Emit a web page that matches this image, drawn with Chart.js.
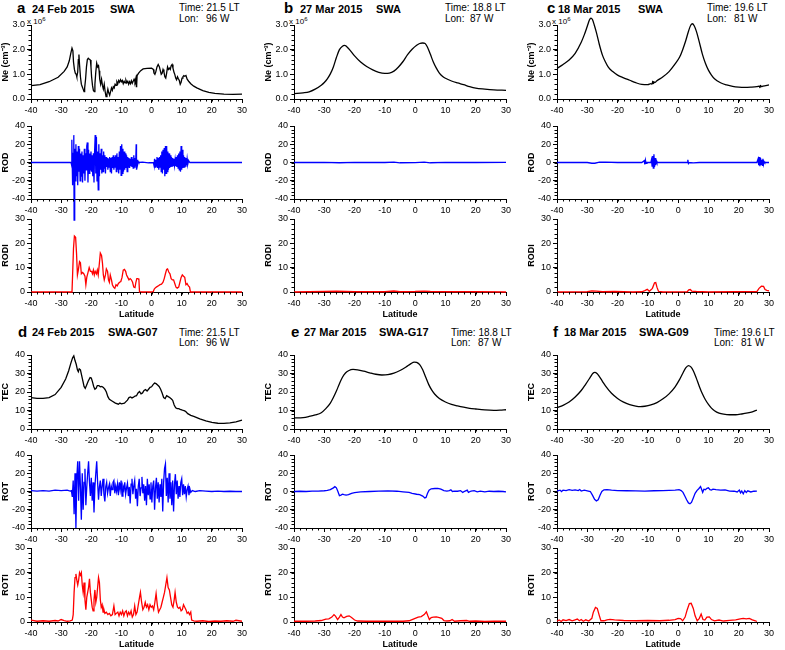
<!DOCTYPE html>
<html>
<head>
<meta charset="utf-8">
<title>SWA Ne / TEC latitude profiles</title>
<script src="https://cdn.jsdelivr.net/npm/chart.js@4.4.0/dist/chart.umd.min.js"></script>
<style>
  body { margin: 0; background: #fff; }
  #page { position: relative; width: 785px; height: 650px; overflow: hidden; background: #fff;
          font-family: 'Liberation Sans', Arial, sans-serif; color: #000; }
  #page canvas { position: absolute; }
  .lbl { position: absolute; white-space: pre; line-height: 1; }
  .let { font-weight: bold; font-size: 15px; }
  .ttl { font-weight: bold; font-size: 11px; }
  .inf { font-size: 10px; }
  .mul { font-size: 8px; }
  .mul sup { font-size: 6px; vertical-align: 3px; }
</style>
</head>
<body>
<div id="page">
  <!-- top row headers -->
  <div class="lbl let" style="left:17px;top:0px">a</div>
  <div class="lbl ttl" style="left:32px;top:4px">24 Feb 2015</div>
  <div class="lbl ttl" style="left:110px;top:4px">SWA</div>
  <div class="lbl inf" style="left:179px;top:3px">Time: 21.5 LT</div>
  <div class="lbl inf" style="left:179px;top:14px">Lon:</div>
  <div class="lbl inf" style="left:206px;top:14px">96 W</div>
  <div class="lbl mul" style="left:27px;top:16px">x 10<sup>6</sup></div>

  <div class="lbl let" style="left:284px;top:0px">b</div>
  <div class="lbl ttl" style="left:300px;top:4px">27 Mar 2015</div>
  <div class="lbl ttl" style="left:376px;top:4px">SWA</div>
  <div class="lbl inf" style="left:445px;top:3px">Time: 18.8 LT</div>
  <div class="lbl inf" style="left:445px;top:14px">Lon:</div>
  <div class="lbl inf" style="left:470px;top:14px">87 W</div>
  <div class="lbl mul" style="left:289px;top:16px">x 10<sup>6</sup></div>

  <div class="lbl let" style="left:547px;top:0px">c</div>
  <div class="lbl ttl" style="left:558px;top:4px">18 Mar 2015</div>
  <div class="lbl ttl" style="left:638px;top:4px">SWA</div>
  <div class="lbl inf" style="left:707px;top:3px">Time: 19.6 LT</div>
  <div class="lbl inf" style="left:707px;top:14px">Lon:</div>
  <div class="lbl inf" style="left:734px;top:14px">81 W</div>
  <div class="lbl mul" style="left:552px;top:16px">x 10<sup>6</sup></div>

  <!-- bottom row headers -->
  <div class="lbl let" style="left:18px;top:324px">d</div>
  <div class="lbl ttl" style="left:32px;top:327px">24 Feb 2015</div>
  <div class="lbl ttl" style="left:108px;top:327px">SWA-G07</div>
  <div class="lbl inf" style="left:179px;top:328px">Time: 21.5 LT</div>
  <div class="lbl inf" style="left:179px;top:338px">Lon:</div>
  <div class="lbl inf" style="left:206px;top:338px">96 W</div>

  <div class="lbl let" style="left:291px;top:324px">e</div>
  <div class="lbl ttl" style="left:304px;top:327px">27 Mar 2015</div>
  <div class="lbl ttl" style="left:379px;top:327px">SWA-G17</div>
  <div class="lbl inf" style="left:451px;top:328px">Time: 18.8 LT</div>
  <div class="lbl inf" style="left:451px;top:338px">Lon:</div>
  <div class="lbl inf" style="left:478px;top:338px">87 W</div>

  <div class="lbl let" style="left:553px;top:324px">f</div>
  <div class="lbl ttl" style="left:564px;top:327px">18 Mar 2015</div>
  <div class="lbl ttl" style="left:639px;top:327px">SWA-G09</div>
  <div class="lbl inf" style="left:714px;top:328px">Time: 19.6 LT</div>
  <div class="lbl inf" style="left:714px;top:338px">Lon:</div>
  <div class="lbl inf" style="left:741px;top:338px">81 W</div>
</div>
<script>
'use strict';

//**********Data ([latitude, value] pairs)*******************

// x axis ticks (latitude)
let latMin = -40;
let latMax = 30;
let latStep = 10;

// panel a : Swarm A electron density (x 10^6 cm^-3), ROD, RODI
let neA = [[-40,0.54],[-37,0.58],[-34,0.7],[-31,0.88],[-29,1.12],[-28,1.3],[-27.3,1.55],[-26.8,1.85],[-26.4,2.06],[-26.1,1.95],[-25.9,1.5],[-25.6,1.2],[-25.3,1.05],[-25.0,1.0],[-24.8,0.9],[-24.5,1.1],[-24.3,1.6],[-24.1,1.8],[-23.9,1.4],[-23.6,0.9],[-23.3,0.6],[-23.0,0.5],[-22.7,0.4],[-22.4,0.3],[-22.2,0.45],[-21.9,0.8],[-21.6,1.3],[-21.3,1.6],[-21.0,1.65],[-20.6,1.6],[-20.3,1.58],[-20.1,1.3],[-19.9,0.9],[-19.6,0.55],[-19.3,0.35],[-19.0,0.3],[-18.8,0.6],[-18.5,1.1],[-18.2,1.45],[-17.9,1.3],[-17.6,1.35],[-17.4,1.15],[-17.2,0.8],[-16.9,0.6],[-16.6,0.8],[-16.3,0.55],[-16.0,0.4],[-15.7,0.6],[-15.4,0.3],[-15.1,0.1],[-14.8,0.2],[-14.5,0.4],[-14.2,0.25],[-13.9,0.15],[-13.6,0.3],[-13.3,0.45],[-13.0,0.35],[-12.7,0.5],[-12.4,0.45],[-12.1,0.6],[-11.8,0.55],[-11.5,0.7],[-11.2,0.62],[-10.9,0.75],[-10.6,0.68],[-10.3,0.78],[-10.0,0.7],[-9.7,0.75],[-9.4,0.62],[-9.1,0.72],[-8.8,0.65],[-8.5,0.76],[-8.2,0.66],[-7.9,0.72],[-7.6,0.6],[-7.3,0.7],[-7.0,0.62],[-6.7,0.74],[-6.4,0.64],[-6.1,0.72],[-5.8,0.8],[-5.5,0.7],[-5.2,0.85],[-5.05,0.5],[-4.95,0.55],[-4.8,0.95],[-4.3,1.05],[-3.6,1.15],[-2.8,1.22],[-1.5,1.24],[0,1.25],[0.6,1.2],[0.8,1.05],[1.1,1.0],[1.4,1.1],[1.8,1.3],[2.2,1.4],[2.6,1.3],[2.9,1.15],[3.2,1.0],[3.5,1.05],[3.8,1.2],[4.1,1.1],[4.4,0.9],[4.7,0.85],[5.0,1.05],[5.3,1.3],[5.6,1.2],[5.9,1.25],[6.2,1.2],[6.5,1.35],[6.8,1.4],[7.1,1.25],[7.4,1.1],[7.7,1.0],[8.0,0.85],[8.3,0.78],[8.6,0.9],[8.9,0.82],[9.2,0.75],[9.5,0.6],[9.8,0.68],[10.1,0.85],[10.4,0.9],[10.7,0.95],[11.0,0.92],[11.4,0.95],[11.8,0.8],[12.3,0.72],[13,0.62],[14,0.52],[15,0.45],[17,0.34],[19,0.27],[21,0.23],[24,0.2],[27,0.19],[30,0.2]];

let rodA = [[-40,0],[-30,0],[-26.7,0],[-26.5,-4],[-26.4,25],[-26.2,-25],[-26.0,10],[-25.8,30],[-25.7,-63],[-25.5,15],[-25.3,-20],[-25.1,20],[-24.9,-15],[-24.7,12],[-24.5,-25],[-24.3,18],[-24.1,-10],[-23.9,15],[-23.7,-20],[-23.5,10],[-23.3,-15],[-23.1,12],[-22.9,-22],[-22.7,8],[-22.5,-12],[-22.3,15],[-22.1,-20],[-21.9,10],[-21.7,-8],[-21.5,18],[-21.3,22],[-21.1,-22],[-20.9,14],[-20.7,-12],[-20.5,10],[-20.3,-8],[-20.1,12],[-19.9,-10],[-19.7,8],[-19.5,-15],[-19.3,10],[-19.1,-22],[-18.9,12],[-18.7,30],[-18.5,-12],[-18.3,28],[-18.1,-20],[-17.9,12],[-17.7,-30],[-17.5,20],[-17.3,-15],[-17.1,10],[-16.9,-8],[-16.7,15],[-16.5,-12],[-16.3,8],[-16.1,-10],[-15.9,12],[-15.7,-6],[-15.5,8],[-15.3,-12],[-15.1,6],[-14.9,-5],[-14.7,5],[-14.5,-8],[-14.3,4],[-14.1,-5],[-13.9,6],[-13.7,-10],[-13.5,5],[-13.3,-12],[-13.1,6],[-12.9,-6],[-12.7,8],[-12.5,-8],[-12.3,6],[-12.1,-5],[-11.9,8],[-11.7,-10],[-11.5,10],[-11.3,-8],[-11.1,6],[-10.9,-12],[-10.7,12],[-10.5,-8],[-10.3,18],[-10.1,-14],[-9.9,20],[-9.7,-12],[-9.5,15],[-9.3,-10],[-9.1,12],[-8.9,-8],[-8.7,10],[-8.5,-6],[-8.3,8],[-8.1,-10],[-7.9,6],[-7.7,-5],[-7.5,5],[-7.3,-6],[-7.1,4],[-6.9,-4],[-6.7,6],[-6.5,-5],[-6.3,4],[-6.1,-6],[-5.9,8],[-5.7,-5],[-5.5,5],[-5.3,-4],[-5.1,20],[-5.0,-8],[-4.8,3],[-4.6,-2],[-4.4,1],[-4.2,0],[-3,0.3],[-1,-0.3],[0.6,0],[0.8,-3],[1.0,4],[1.2,-5],[1.4,3],[1.6,-4],[1.8,6],[2.0,-6],[2.2,5],[2.4,-8],[2.6,6],[2.8,-5],[3.0,8],[3.2,-10],[3.4,12],[3.6,-12],[3.8,14],[4.0,-8],[4.2,16],[4.4,-15],[4.6,18],[4.8,-12],[5.0,18],[5.2,-10],[5.4,12],[5.6,-8],[5.8,10],[6.0,-6],[6.2,8],[6.4,-5],[6.6,6],[6.8,-4],[7.0,5],[7.2,-3],[7.4,4],[7.6,-3],[7.8,3],[8.0,-4],[8.2,6],[8.4,-5],[8.6,8],[8.8,-6],[9.0,10],[9.2,-8],[9.4,12],[9.6,-10],[9.8,18],[10.0,-8],[10.2,14],[10.4,-6],[10.6,8],[10.8,-5],[11.0,6],[11.2,-4],[11.4,5],[11.6,-3],[11.8,4],[12.0,-2],[12.3,2],[12.7,0],[30,0]];

let rodiA = [[-40,0],[-26.4,0],[-26.2,7],[-25.9,18],[-25.6,23],[-25.2,22.5],[-24.9,16],[-24.6,7],[-24.3,9],[-23.9,12.5],[-23.6,12],[-23.3,7.5],[-22.9,8],[-22.5,7.5],[-22.1,6.5],[-21.8,3],[-21.5,6],[-21.1,8],[-20.7,10],[-20.3,8.5],[-19.9,8.5],[-19.6,7.5],[-19.3,9],[-19,7],[-18.7,8.5],[-18.3,7.5],[-18,9],[-17.7,7],[-17.3,12],[-17,16],[-16.6,15],[-16.3,12],[-16,7],[-15.7,5],[-15.3,7],[-15,9.5],[-14.6,8.5],[-14.3,5],[-14,4],[-13.7,7],[-13.3,5],[-13,3],[-12.6,2],[-12.2,1.5],[-11.8,3],[-11.4,2.5],[-11,3.5],[-10.6,4],[-10.2,4.3],[-9.8,6],[-9.4,9],[-9,9.3],[-8.6,8.5],[-8.3,7],[-7.9,6],[-7.5,5],[-7.1,5.5],[-6.7,5],[-6.3,4],[-5.9,2],[-5.5,1.8],[-5.2,4],[-4.9,5.5],[-4.5,5.5],[-4.2,5],[-4.0,0],[0.5,0],[0.9,1.2],[1.3,1.8],[1.8,2.2],[2.3,2.6],[2.8,3],[3.3,3.2],[3.8,4],[4.2,5.5],[4.6,7.5],[5.0,9.3],[5.3,9.5],[5.7,8.2],[6.1,7.5],[6.5,5.5],[6.9,5],[7.3,5],[7.7,3.5],[8.1,2],[8.5,1.6],[9,2],[9.4,4],[9.8,6],[10.2,7],[10.6,6.5],[11,6],[11.4,3],[11.8,3.5],[12.2,2.5],[12.6,2],[12.9,0],[30,0]];

// panel b
let neB = [[-40,0.22],[-37,0.25],[-35,0.29],[-33,0.4],[-31,0.56],[-30,0.67],[-29,0.82],[-28,1.02],[-27,1.3],[-26,1.68],[-25,2.0],[-24,2.14],[-23.3,2.17],[-22,2.05],[-20,1.75],[-18,1.5],[-16,1.32],[-14,1.18],[-12,1.08],[-10,1.04],[-8.5,1.05],[-7,1.13],[-5.5,1.3],[-4,1.52],[-2.5,1.8],[-1,2.02],[0.5,2.18],[1.5,2.25],[2.5,2.27],[3.3,2.25],[4,2.12],[5,1.82],[6,1.5],[7,1.25],[8,1.05],[9,0.92],[10,0.84],[12,0.73],[14,0.65],[16,0.58],[18,0.5],[20,0.44],[23,0.4],[26,0.37],[30,0.35]];
let rodB = [[-40,0],[-30,0.2],[-25,-0.3],[-20,0.2],[-10,0],[-7,0.4],[-5,-0.3],[0,-0.2],[3,0.5],[5,-0.3],[10,0.2],[20,0],[30,0.1]];
let rodiB = [[-40,0],[-30,0.2],[-26,0.3],[-20,0.1],[-10,0.1],[-7,0.4],[-5,0.1],[0,0.2],[3,0.4],[5,0.2],[10,0.1],[20,0.1],[30,0]];

// panel c
let neC = [[-40,1.24],[-38,1.4],[-36,1.58],[-34,1.85],[-32,2.3],[-31,2.6],[-30,2.95],[-29.3,3.2],[-28.8,3.28],[-28.3,3.22],[-27.7,3.0],[-27,2.7],[-26,2.2],[-25,1.78],[-24,1.5],[-23,1.28],[-21.5,1.1],[-20,0.97],[-18,0.86],[-16,0.76],[-14,0.66],[-12,0.59],[-10,0.58],[-9,0.62],[-8.6,0.6],[-8.4,0.72],[-8.2,0.62],[-8,0.7],[-7.8,0.66],[-7,0.74],[-5,0.9],[-3,1.11],[-1,1.42],[0.5,1.7],[1.5,2.0],[2.5,2.36],[3.5,2.78],[4.2,3.0],[4.7,3.05],[5.3,2.97],[6,2.75],[6.8,2.4],[8,1.82],[9,1.45],[10,1.17],[11,0.97],[12,0.82],[14,0.66],[16,0.57],[18,0.51],[20,0.48],[22,0.47],[24,0.48],[26,0.5],[26.8,0.52],[27,0.46],[27.2,0.55],[27.5,0.5],[28,0.52],[30,0.57]];
let rodC = [[-40,0],[-30,0],[-28.5,-0.8],[-27.5,-0.8],[-26,0.3],[-24,0.4],[-20,0],[-12,0],[-11.2,2],[-11,-2],[-10.8,2.5],[-10.6,-1],[-10.3,0],[-9,0],[-8.8,3],[-8.6,-4],[-8.4,7],[-8.2,-6],[-8.0,9],[-7.8,-5],[-7.6,5],[-7.4,-3],[-7.2,2],[-7,0],[3,0],[3.2,3],[3.4,-1],[3.6,0],[5,-0.5],[7,0],[26,0],[26.4,4],[26.6,-3],[26.8,6],[27.0,-4],[27.2,5],[27.4,-2],[27.6,3],[27.8,-3],[28.0,4],[28.2,-2],[28.4,1],[28.6,0],[30,0]];
let rodiC = [[-40,0],[-30,0.1],[-28.5,0.5],[-27,0.4],[-25,0.1],[-21,0.2],[-15,0],[-12,0.1],[-11,0.6],[-10.2,1.1],[-9.5,0.3],[-8.5,1.5],[-7.8,3.8],[-7.4,3.9],[-7,2],[-6.5,0.3],[-5,0],[3,0.1],[3.5,0.9],[4,1],[4.5,0.4],[6,0.2],[10,0],[26,0.2],[26.7,1.5],[27.5,2.4],[28.2,2.3],[28.7,1],[29.3,0.7],[30,0.5]];

// panel d : GPS TEC (TECU), ROT, ROTI
let tecD = [[-40,17],[-38,16.6],[-36,16.6],[-34,17],[-32,18.6],[-30,22.5],[-28.5,27],[-27.5,31.5],[-26.8,35.5],[-26.2,38.5],[-25.8,39.5],[-25.4,37],[-25,35],[-24.6,32],[-24.3,31],[-24,32.5],[-23.6,32],[-23.2,29],[-22.8,26],[-22.4,23],[-22,22],[-21.6,23.5],[-21,26],[-20.4,27.8],[-20,27.6],[-19.6,25.5],[-19.2,23],[-18.8,21.5],[-18.4,22],[-18,23.5],[-17.5,23.5],[-17,22.8],[-16.5,23],[-16,22.5],[-15.5,21.5],[-15,20],[-14.5,17.5],[-14,16],[-13,15],[-12,14],[-11,13.4],[-10.5,14],[-10,13.6],[-9,14],[-8.5,14.8],[-8,15.6],[-7.5,17],[-7,17.3],[-6.5,16.8],[-6,17.2],[-5.5,17.8],[-5,18],[-4.5,19.5],[-4,20.3],[-3.5,19],[-3,19.5],[-2.5,20.8],[-2,21.3],[-1.5,20.5],[-1,21.5],[-0.5,22.5],[0,22.8],[0.5,24],[1,24.8],[1.5,24.5],[2,23.8],[2.5,23],[3,21.5],[3.5,19.5],[4,17],[4.5,16.5],[5,18],[5.5,17.5],[6,17],[6.5,16.3],[7,15.5],[7.5,13],[8,11.5],[8.5,11],[9,11],[9.5,10.6],[10,10.3],[10.5,10],[11,9.8],[11.5,9.2],[12,8.3],[13,7.4],[14,6.8],[15,6.2],[16,5.5],[18,4.4],[20,3.6],[22,3.1],[24,3],[26,3.3],[28,3.9],[30,4.8]];

let rotD = [[-40,1],[-38,0.5],[-36,1],[-34,0.5],[-32,1.5],[-30,1],[-28,1.5],[-27,0.5],[-26.6,1],[-26.3,-6],[-26.0,12],[-25.7,-25],[-25.4,20],[-25.1,-40],[-24.8,15],[-24.5,33],[-24.2,-10],[-23.9,33],[-23.6,5],[-23.3,-31],[-23.0,20],[-22.7,-20],[-22.4,10],[-22.1,25],[-21.8,-15],[-21.5,5],[-21.2,20],[-20.9,33],[-20.6,10],[-20.3,-5],[-20.0,15],[-19.7,-10],[-19.4,10],[-19.1,-23],[-18.8,5],[-18.5,20],[-18.2,33],[-17.9,10],[-17.6,-9],[-17.3,5],[-17.0,12],[-16.7,-5],[-16.4,6],[-16.1,14],[-15.8,-3],[-15.5,-11],[-15.2,5],[-14.9,10],[-14.6,-2],[-14.3,4],[-14.0,8],[-13.7,-5],[-13.4,6],[-13.1,2],[-12.8,10],[-12.5,12],[-12.2,-2],[-11.9,6],[-11.6,0],[-11.3,8],[-11.0,-4],[-10.7,10],[-10.4,2],[-10.1,12],[-9.8,-5],[-9.5,6],[-9.2,2],[-8.9,10],[-8.6,-3],[-8.3,4],[-8.0,9],[-7.7,-5],[-7.4,5],[-7.1,-13],[-6.8,8],[-6.5,14],[-6.2,-3],[-5.9,6],[-5.6,12],[-5.3,-8],[-5.0,3],[-4.7,-16],[-4.4,6],[-4.1,14],[-3.8,-5],[-3.5,4],[-3.2,16],[-2.9,-2],[-2.6,8],[-2.3,-10],[-2.0,6],[-1.7,-15],[-1.4,14],[-1.1,-4],[-0.8,8],[-0.5,-8],[-0.2,10],[0.1,-12],[0.4,6],[0.7,12],[1.0,-20],[1.3,4],[1.6,15],[1.9,-8],[2.2,10],[2.5,-12],[2.8,8],[3.1,-6],[3.4,14],[3.7,-22],[4.0,10],[4.3,25],[4.6,30],[4.9,-5],[5.2,15],[5.5,-12],[5.8,20],[6.1,-8],[6.4,10],[6.7,-15],[7.0,12],[7.3,-22],[7.6,8],[7.9,19],[8.2,-3],[8.5,12],[8.8,-8],[9.1,6],[9.4,-6],[9.7,10],[10.0,14],[10.3,-4],[10.6,8],[10.9,-3],[11.2,6],[11.5,-6],[11.8,2],[12.1,6],[12.4,-4],[12.7,3],[13.0,-1],[13.5,1],[14.5,0],[16,1],[18,0.5],[20,0],[22,0.5],[24,0],[26,0.3],[28,0],[30,0]];

let rotiD = [[-40,0.8],[-38,0.3],[-36,0.5],[-34,0.3],[-32,0.6],[-31,0.4],[-30,1.0],[-29,0.6],[-28,0.3],[-27,0.5],[-26.3,0.8],[-26,3],[-25.7,12],[-25.4,18],[-25.1,19.5],[-24.8,17],[-24.5,15],[-24.2,17],[-23.9,20],[-23.6,19],[-23.3,20],[-23,15],[-22.7,12],[-22.4,16],[-22.1,9],[-21.8,5],[-21.5,10],[-21.2,12],[-20.9,14],[-20.6,17.5],[-20.3,12],[-20,9],[-19.7,6],[-19.4,4.5],[-19.1,9],[-18.8,13],[-18.5,8],[-18.2,10],[-17.9,14],[-17.6,18],[-17.3,16],[-17,9],[-16.7,6],[-16.4,7],[-16.1,4],[-15.8,5],[-15.5,3.5],[-15,4],[-14.5,3],[-14,3.5],[-13.5,2.5],[-13,3],[-12.5,6.5],[-12.1,3],[-11.7,3.5],[-11.2,4],[-10.8,2.5],[-10.4,4],[-10,3],[-9.6,4.5],[-9.2,2.5],[-8.8,4],[-8.4,4.5],[-8,2.5],[-7.6,4],[-7.2,3],[-6.8,4.5],[-6.4,2],[-6,3],[-5.6,6.5],[-5.2,3],[-4.8,4],[-4.4,7],[-4,10],[-3.7,12],[-3.3,8],[-2.9,5],[-2.5,6],[-2.1,8],[-1.7,6],[-1.3,7],[-0.9,5],[-0.5,7],[-0.1,6],[0.3,6.5],[0.7,5],[1.1,8],[1.5,11.5],[1.9,7],[2.3,4],[2.7,5],[3.1,6],[3.5,8],[3.9,10],[4.3,12],[4.7,15],[5.1,18],[5.5,14],[5.9,13],[6.3,10],[6.7,7],[7.1,6],[7.5,9],[7.8,12],[8.2,8],[8.6,6],[9,5.5],[9.4,6],[9.8,4.5],[10.2,5],[10.6,7],[11,6],[11.4,5],[11.8,3.5],[12.2,4],[12.6,3],[13,4],[13.3,0.8],[14,0.5],[15,0.3],[17,0.5],[19,0.2],[21,0.4],[23,0.3],[25,0.5],[27,0.3],[28,0.7],[30,0.3]];

// panel e
let tecE = [[-40,6],[-37,6.2],[-35,6.8],[-33,7.6],[-31,8.8],[-29.5,11],[-28,14],[-27,17],[-26,20.5],[-25,24.5],[-24,28],[-23,30.3],[-22,31.5],[-20.5,32.2],[-19,32],[-17,31.3],[-15,30.4],[-13,29.6],[-11,29.2],[-9,29.4],[-7,30.2],[-5,31.6],[-3,33.5],[-1.5,35.2],[-0.3,36.2],[0.5,36],[1.5,34.8],[2.5,32],[3.5,28],[4.5,24],[5.5,21],[6.5,18.8],[8,16.5],[10,14.6],[12,13.3],[14,12.5],[16,11.8],[18,11.2],[20,10.8],[23,10.3],[26,10.1],[28,10.2],[30,10.4]];
let rotE = [[-40,0],[-38,0.3],[-36,0],[-34,0.4],[-32,0.5],[-30,0.8],[-29,1.2],[-28,2],[-27,4],[-26.5,5.3],[-26,4],[-25.5,0],[-25,-4.5],[-24.5,-4],[-24,-3],[-23.5,-3.5],[-22.8,-4],[-22,-3.5],[-21,-2],[-20,-1.2],[-18,-0.5],[-15,0],[-12,0.5],[-9,0.6],[-6,0.3],[-4,-0.3],[-2,-1],[-1,-2],[0.5,-3],[1.5,-3.5],[2.5,-5],[3.2,-7],[3.6,-6.5],[4.1,-2],[4.6,1.5],[5.3,3],[6.5,3.3],[7.5,3.5],[8.5,2.5],[9.5,1],[10.5,0.5],[11.3,1],[11.8,1.8],[12.3,0],[13,0.5],[14,0.3],[15,1],[15.7,-1],[16.5,0.5],[17.2,1.5],[17.6,-1],[18.5,0.5],[19.5,1],[20.5,-0.3],[21.5,0.5],[23,-0.5],[24.5,0.3],[26,0],[27.5,0.3],[29,0],[30,-0.5]];
let rotiE = [[-40,0.3],[-36,0.3],[-33,0.4],[-31,0.6],[-29.5,1.2],[-28.5,1.3],[-27.5,2],[-26.8,3],[-26.3,2.4],[-25.6,1],[-25,2],[-24.5,3],[-24,2],[-23.5,1.7],[-22.6,2.3],[-21.8,2.5],[-21,1.8],[-20,0.8],[-19,0.4],[-16,0.3],[-12,0.3],[-8,0.3],[-4,0.3],[-2,0.5],[-1,1],[0,1.5],[1,2],[2,2.2],[3,3],[3.7,4.1],[4.2,2.5],[4.7,1],[5.3,1.8],[6,2],[7,2.1],[8,1.8],[8.8,1.5],[9.5,0.6],[10.5,0.4],[11.5,0.5],[12.2,1],[13,0.3],[15,0.5],[17,0.6],[18,0.3],[20,0.4],[23,0.2],[26,0.3],[30,0.3]];

// panel f
let tecF = [[-40,11.5],[-38,12.8],[-36,14.6],[-34,17.3],[-32,20.8],[-30.5,24.3],[-29,28],[-28.2,30],[-27.5,30.6],[-26.8,30],[-26,28.3],[-25,25.8],[-24,23.3],[-22,19.3],[-20,16.5],[-18,14.5],[-16,13.2],[-14,12.4],[-12.5,12.1],[-11,12.3],[-9,13],[-7,14.3],[-5,16.3],[-3,19],[-1,22.8],[0.5,26.8],[1.5,30],[2.5,33],[3.4,34.3],[4.2,33.6],[5,31.5],[6,27.5],[7,23],[8,19],[9,15.8],[10,13.3],[11,11.3],[12,9.9],[13.5,8.6],[15,8],[17,7.7],[19,7.7],[21,8.1],[23,8.7],[24.5,9.3],[26,10.2]];
let rotF = [[-40,0.5],[-39,1.5],[-38.5,0],[-38,1.5],[-37,1],[-36,2],[-35,1.2],[-34,1.8],[-33,1],[-32.5,2.2],[-32,0.5],[-31,1.5],[-30,0.8],[-29,0],[-28.3,-4],[-27.6,-8.5],[-27,-10.3],[-26.4,-9],[-25.8,-4],[-25.2,0],[-24.5,1.8],[-23.5,2],[-22,1.5],[-20,1],[-17,0.8],[-14,0.6],[-11,0.5],[-8,0.8],[-5,1],[-3,1.2],[-1,1.5],[0.3,2],[1,1],[1.6,-1],[2.2,-5],[2.8,-9],[3.4,-12.5],[3.9,-13.5],[4.4,-12],[5,-7],[5.6,-2],[6.2,1],[6.8,3],[7.4,5.5],[7.8,2],[8.1,-1],[8.5,2.5],[9,2],[9.5,3.5],[10,4],[10.5,2],[11,1.5],[11.5,2.5],[12.5,2],[14,1.5],[15.5,1.8],[17,0.5],[18.5,0.3],[19.5,-0.5],[20.2,1.5],[20.6,-1.5],[21,0.5],[21.5,-2.5],[22,1],[22.5,-1],[23,0.8],[24,-0.5],[25,0.3],[26,0.5]];
let rotiF = [[-40,0.3],[-39.3,0.8],[-38.6,0.2],[-38,0.9],[-37,0.6],[-36,1],[-35,0.5],[-34,0.9],[-33.3,1.2],[-32.6,0.5],[-32,1],[-31.3,0.3],[-30.5,0.9],[-29.5,0.4],[-28.5,1.5],[-28,4],[-27.3,5.9],[-26.7,5.5],[-26,2.5],[-25.5,0.5],[-24.5,0.5],[-23.5,0.9],[-22.5,1.1],[-21,0.9],[-18,0.6],[-14,0.5],[-10,0.6],[-6,0.5],[-3,0.7],[-1,1],[0,1.5],[0.8,1.4],[1.5,0.5],[2.3,2],[3,5],[3.7,7.5],[4.3,7.6],[5,5.5],[5.6,2.5],[6.3,0.5],[7,1.5],[7.6,3.2],[8.2,1],[8.8,0.8],[9.5,2],[10.3,2.1],[11,1],[12,0.5],[13.5,0.8],[15,0.4],[17,0.7],[19,0.9],[20.5,1.3],[21.5,1.5],[22.5,1.3],[23.5,1.5],[24.5,0.9],[25.5,0.5],[26,0.2]];

// ************ Layout *******************

let page = document.getElementById('page');

let colLeft = [31, 294, 557];
let colRight = [242, 506, 769];

// y axis settings for each kind of subplot
let rows = {
  ne:   { top: 25,  bottom: 99,  min: 0,   max: 3,  step: 1,  minor: 0.2, title: 'Ne (cm\u207B\u00B3)', fixed: true },
  rod:  { top: 126, bottom: 199, min: -40, max: 40, step: 20, minor: 4,   title: 'ROD' },
  rodi: { top: 219, bottom: 292, min: 0,   max: 30, step: 10, minor: 2,   title: 'RODI', xTitle: true },
  tec:  { top: 355, bottom: 429, min: 0,   max: 40, step: 10, minor: 2,   title: 'TEC' },
  rot:  { top: 455, bottom: 528, min: -40, max: 40, step: 20, minor: 4,   title: 'ROT' },
  roti: { top: 548, bottom: 622, min: 0,   max: 30, step: 10, minor: 2,   title: 'ROTI', xTitle: true }
};

let BLACK = '#000000';
let BLUE = '#0000ff';
let RED = '#ff0000';

let panels = [
  { col: 0, row: 'ne',   data: neA,   color: BLACK },
  { col: 0, row: 'rod',  data: rodA,  color: BLUE, below: 24 },
  { col: 0, row: 'rodi', data: rodiA, color: RED },
  { col: 1, row: 'ne',   data: neB,   color: BLACK, smooth: true },
  { col: 1, row: 'rod',  data: rodB,  color: BLUE },
  { col: 1, row: 'rodi', data: rodiB, color: RED },
  { col: 2, row: 'ne',   data: neC,   color: BLACK, smooth: true },
  { col: 2, row: 'rod',  data: rodC,  color: BLUE },
  { col: 2, row: 'rodi', data: rodiC, color: RED },
  { col: 0, row: 'tec',  data: tecD,  color: BLACK },
  { col: 0, row: 'rot',  data: rotD,  color: BLUE },
  { col: 0, row: 'roti', data: rotiD, color: RED },
  { col: 1, row: 'tec',  data: tecE,  color: BLACK, smooth: true },
  { col: 1, row: 'rot',  data: rotE,  color: BLUE },
  { col: 1, row: 'roti', data: rotiE, color: RED },
  { col: 2, row: 'tec',  data: tecF,  color: BLACK, smooth: true },
  { col: 2, row: 'rot',  data: rotF,  color: BLUE },
  { col: 2, row: 'roti', data: rotiF, color: RED }
];

// ************* Helpers ***************

Chart.defaults.font.family = "'Liberation Sans', Arial, sans-serif";
Chart.defaults.color = BLACK;

// small ticks between the labelled ones
let minorTicks = {
  id: 'minorTicks',
  afterDraw(chart, args, opts) {
    let ctx = chart.ctx;
    let area = chart.chartArea;
    let xs = chart.scales.x;
    let ys = chart.scales.y;
    ctx.save();
    ctx.strokeStyle = BLACK;
    ctx.lineWidth = 1;
    ctx.beginPath();
    let n = Math.round((xs.max - xs.min) / opts.x);
    for (let i = 0; i <= n; i++) {
      let px = Math.round(xs.getPixelForValue(xs.min + i * opts.x)) + 0.5;
      ctx.moveTo(px, area.bottom);
      ctx.lineTo(px, area.bottom + 2.5);
    }
    n = Math.round((ys.max - ys.min) / opts.y);
    for (let i = 0; i <= n; i++) {
      let py = Math.round(ys.getPixelForValue(ys.min + i * opts.y)) + 0.5;
      ctx.moveTo(area.left, py);
      ctx.lineTo(area.left - 2.5, py);
    }
    ctx.stroke();
    ctx.restore();
  }
};

function makeChart(p) {
  let r = rows[p.row];
  let L = colLeft[p.col];
  let R = colRight[p.col];
  let yw = 31;
  let xh = r.xTitle ? 28 : (p.below || 18);

  let cv = document.createElement('canvas');
  let w = (R - L) + yw + 10;
  let h = (r.bottom - r.top) + 8 + xh;
  cv.width = w;
  cv.height = h;
  cv.style.left = (L - yw) + 'px';
  cv.style.top = (r.top - 8) + 'px';
  cv.style.width = w + 'px';
  cv.style.height = h + 'px';
  page.appendChild(cv);

  let axisGrid = { display: true, drawOnChartArea: false, drawTicks: true, tickLength: 4, color: BLACK, lineWidth: 1 };
  let axisBorder = { display: true, color: BLACK, width: 1 };

  new Chart(cv, {
    type: 'line',
    data: {
      datasets: [{
        data: p.data.map(d => ({ x: d[0], y: d[1] })),
        borderColor: p.color,
        borderWidth: 1.3,
        pointRadius: 0,
        fill: false,
        tension: p.smooth ? 0.4 : 0,
        cubicInterpolationMode: p.smooth ? 'monotone' : 'default',
        clip: false
      }]
    },
    options: {
      responsive: false,
      animation: false,
      devicePixelRatio: 1,
      layout: { padding: { left: 0, top: 8, right: 10, bottom: 0 } },
      plugins: {
        legend: { display: false },
        tooltip: { enabled: false },
        minorTicks: { x: 2, y: r.minor }
      },
      scales: {
        x: {
          type: 'linear',
          min: latMin,
          max: latMax,
          ticks: { stepSize: latStep, font: { size: 9 }, color: BLACK, padding: 2, maxRotation: 0, autoSkip: false },
          grid: axisGrid,
          border: axisBorder,
          title: { display: !!r.xTitle, text: 'Latitude', font: { size: 9, weight: 'bold' }, color: BLACK, padding: 0 },
          afterFit: s => { s.height = xh; }
        },
        y: {
          type: 'linear',
          min: r.min,
          max: r.max,
          ticks: {
            stepSize: r.step, font: { size: 9 }, color: BLACK, padding: 2,
            callback: v => r.fixed ? v.toFixed(1) : v
          },
          grid: axisGrid,
          border: axisBorder,
          title: { display: true, text: r.title, font: { size: 9, weight: 'bold' }, color: BLACK, padding: 0 },
          afterFit: s => { s.width = yw; }
        }
      }
    },
    plugins: [minorTicks]
  });
}

// ************* Draw all 18 subplots ****************

for (let i = 0; i < panels.length; i++) {
  makeChart(panels[i]);
}
</script>
</body>
</html>
